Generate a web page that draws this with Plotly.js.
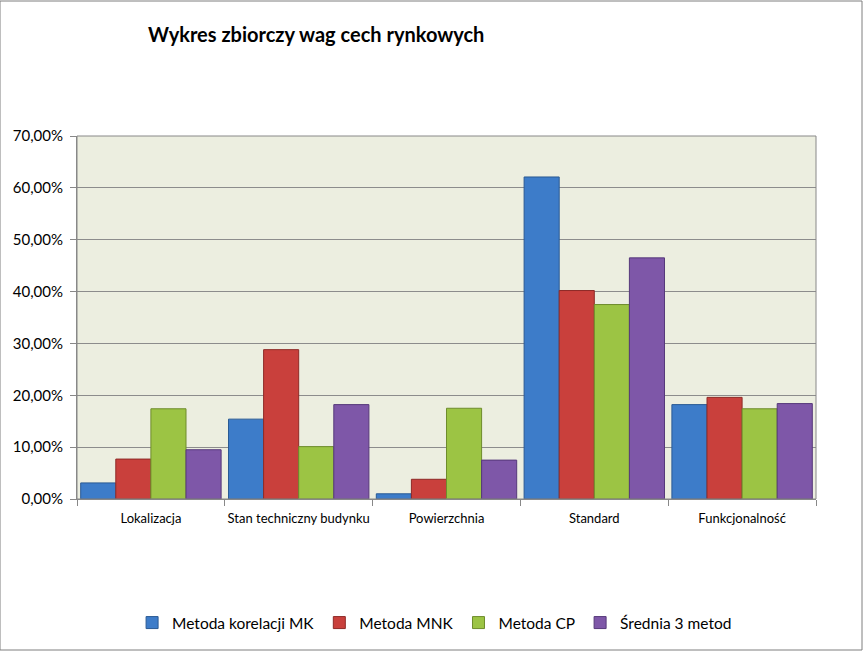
<!DOCTYPE html>
<html><head><meta charset="utf-8">
<script src="https://cdn.plot.ly/plotly-3.0.1.min.js"></script>
<style>html,body{margin:0;padding:0;background:#fff}#chart{width:864px;height:651px}</style>
</head><body><div id="chart"></div>
<script>
const categories = ["Lokalizacja", "Stan techniczny budynku", "Powierzchnia", "Standard", "Funkcjonalność"];
const seriesNames = ["Metoda korelacji MK", "Metoda MNK", "Metoda CP", "Średnia 3 metod"];
const metodaMK  = [0.031, 0.154, 0.010, 0.621, 0.182];
const metodaMNK = [0.077, 0.288, 0.038, 0.402, 0.196];
const metodaCP  = [0.174, 0.101, 0.175, 0.375, 0.174];
const srednia   = [0.095, 0.182, 0.075, 0.465, 0.184];
const yTicks = [0, 0.1, 0.2, 0.3, 0.4, 0.5, 0.6, 0.7];

const values = [metodaMK, metodaMNK, metodaCP, srednia];
const fills = ["#3D7CC9", "#C9403C", "#9CC444", "#7E57A8"];
const lines = ["#2A5A94", "#8E2A27", "#6E8C2C", "#56397A"];

const traces = values.map((v, i) => ({
  type: "bar", name: seriesNames[i], x: categories, y: v,
  marker: {color: fills[i], line: {color: lines[i], width: 1}},
  hoverinfo: "skip"
}));

const font = "Lato, 'Open Sans', 'DejaVu Sans', sans-serif";
const layout = {
  width: 864, height: 651,
  margin: {l: 77, r: 48, t: 136, b: 152},
  paper_bgcolor: "#ffffff", plot_bgcolor: "#ECEEE0",
  separators: ", ",
  font: {family: font, size: 12, color: "#000"},
  title: {text: "<b>Wykres zbiorczy wag cech rynkowych</b>", x: 148/864, xanchor: "left", xref: "container",
          y: 1 - 35/651, yanchor: "middle", yref: "container", font: {size: 20, family: font, color: "#000"}},
  barmode: "group", bargap: 0.05, bargroupgap: 0,
  xaxis: {type: "category", showgrid: false, ticks: "outside", tickson: "boundaries", ticklen: 6,
          tickcolor: "#888", showline: true, linecolor: "#888", linewidth: 1, ticklabelstandoff: 7,
          tickangle: 0, tickfont: {size: 13, family: font}, fixedrange: true},
  yaxis: {range: [0, 0.7], tickvals: yTicks, tickformat: ".2%", showgrid: true, gridcolor: "#8C8C8C",
          gridwidth: 1, ticks: "outside", ticklen: 6, tickcolor: "#888", showline: true, linecolor: "#888",
          zeroline: false, ticklabelstandoff: 4, tickfont: {size: 15, family: font}, fixedrange: true},
  showlegend: true,
  legend: {orientation: "h", xref: "container", yref: "container", x: 0.503, xanchor: "center",
           y: 1 - 623/651, yanchor: "middle", font: {size: 15.5, family: font}, itemwidth: 20,
           traceorder: "normal", bgcolor: "rgba(0,0,0,0)"},
  shapes: [
    {type: "rect", xref: "paper", yref: "paper", x0: 0, x1: 1, y0: 0, y1: 1, line: {color: "#888", width: 1}, layer: "above"},
    {type: "rect", xref: "x domain", yref: "y domain", x0: -77/739, x1: 1 + 46/739, y0: -151/363, y1: 1 + 135/363,
     line: {color: "#7F7F7F", width: 1}}
  ]
};
Plotly.newPlot("chart", traces, layout, {displayModeBar: false, staticPlot: true});
</script></body></html>
